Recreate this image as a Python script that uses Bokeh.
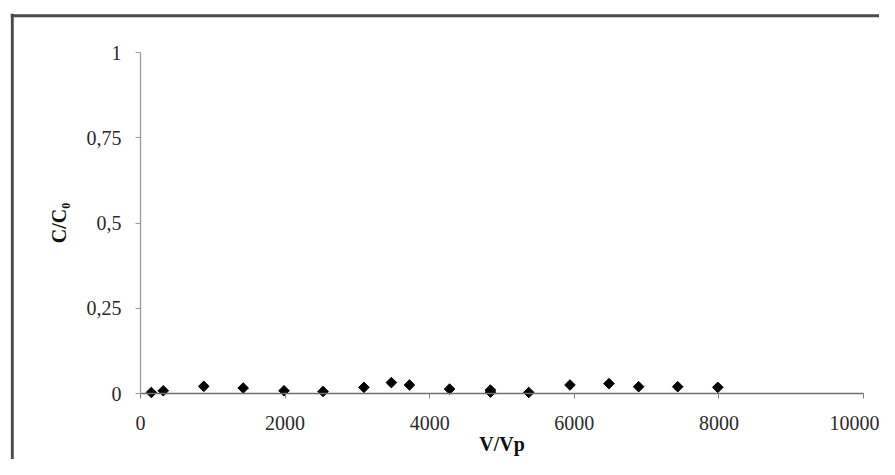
import math
from bokeh.plotting import figure
from bokeh.models import FixedTicker, CustomJSTickFormatter, Span, Range1d, LinearAxis
from bokeh.embed import file_html
from bokeh.resources import INLINE

# Data
v_vp = [150, 315, 875, 1420, 1985, 2525, 3090, 3470, 3720, 4275, 4840, 4840,
        5370, 5940, 6480, 6890, 7430, 7985]
c_c0 = [0.003, 0.008, 0.021, 0.016, 0.008, 0.006, 0.018, 0.032, 0.025, 0.013,
        0.010, 0.004, 0.003, 0.025, 0.029, 0.020, 0.020, 0.018]
x_ticks = [0, 2000, 4000, 6000, 8000, 10000]
y_ticks = [0, 0.25, 0.5, 0.75, 1]

FONT = "Liberation Serif"

p = figure(width=879, height=459, output_backend="svg", toolbar_location=None,
           x_range=Range1d(-1798, 10221), y_range=Range1d(-0.19355, 1.1144),
           min_border_left=10, min_border_top=13, min_border_right=0, min_border_bottom=0,
           x_axis_location=None, y_axis_location=None)
p.grid.visible = False
p.outline_line_color = None
p.background_fill_color = "white"
p.border_fill_color = "white"

xa = LinearAxis(fixed_location=0, bounds=(0, 10000))
ya = LinearAxis(fixed_location=0, bounds=(0, 1))
p.add_layout(xa, "below")
p.add_layout(ya, "left")

xa.ticker = FixedTicker(ticks=x_ticks)
ya.ticker = FixedTicker(ticks=y_ticks)
ya.formatter = CustomJSTickFormatter(code="return tick.toString().replace('.', ',');")
xa.formatter = CustomJSTickFormatter(code="return tick.toString();")

for ax in (xa, ya):
    ax.axis_line_color = "#9a9a9a"
    ax.axis_line_width = 1.3
    ax.major_tick_line_color = "#9a9a9a"
    ax.major_tick_out = 5
    ax.major_tick_in = 0
    ax.minor_tick_line_color = None
    ax.major_label_text_font = FONT
    ax.major_label_text_font_size = "20px"
    ax.major_label_text_color = "#2a2a2a"
    ax.axis_label_text_font = FONT
    ax.axis_label_text_font_style = "bold"
    ax.axis_label_text_font_size = "20px"
    ax.axis_label_text_color = "#111111"

xa.axis_line_color = "#707070"
xa.major_tick_line_color = "#808080"
xa.major_label_standoff = 17
ya.major_label_standoff = 14
xa.axis_label = "V/Vp"
ya.axis_label = "C/C\u2080"
xa.axis_label_standoff = 0
ya.axis_label_standoff = 14

p.scatter(v_vp, c_c0, marker="square", angle=math.pi / 4, size=7.5, color="black")

# outer frame (top and left edges)
p.add_layout(Span(location=1.1076, dimension="width", line_color="#4a4a4a", line_width=3))
p.add_layout(Span(location=-1774, dimension="height", line_color="#4a4a4a", line_width=3))

open("out.html", "w").write(file_html(p, INLINE))
